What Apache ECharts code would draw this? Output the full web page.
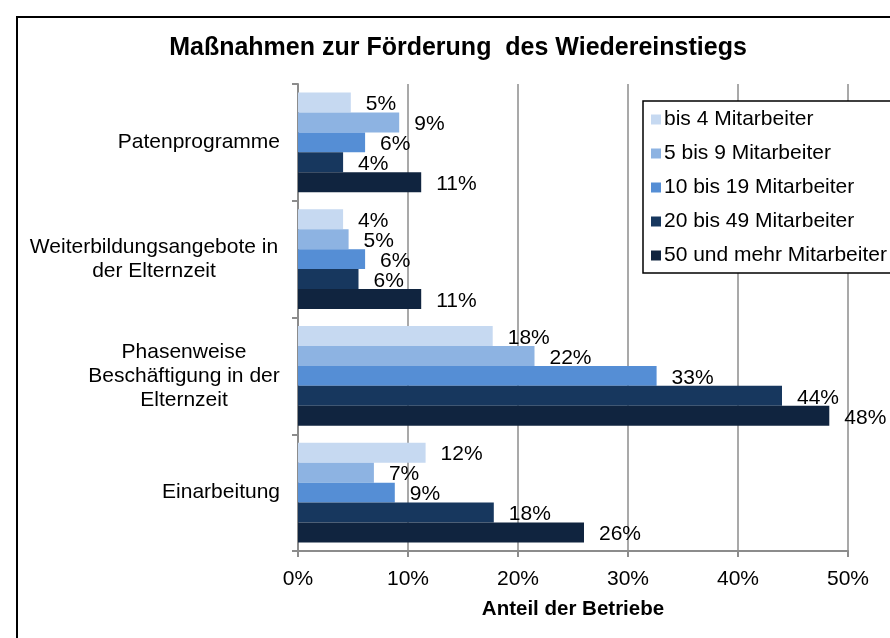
<!DOCTYPE html>
<html>
<head>
<meta charset="utf-8">
<script src="https://cdn.jsdelivr.net/npm/echarts@6/dist/echarts.min.js"></script>
<style>
  html, body { margin: 0; padding: 0; background: #fff; }
  #chart { width: 890px; height: 638px; }
</style>
</head>
<body>
<div id="chart"></div>
<script>
// Kategorien (von oben nach unten)
var categories = [
  'Patenprogramme',
  'Weiterbildungsangebote in\nder Elternzeit',
  'Phasenweise\nBeschäftigung in der\nElternzeit',
  'Einarbeitung'
];
var seriesNames = [
  'bis 4 Mitarbeiter',
  '5 bis 9 Mitarbeiter',
  '10 bis 19 Mitarbeiter',
  '20 bis 49 Mitarbeiter',
  '50 und mehr Mitarbeiter'
];
// Werte in Prozent, je Kategorie
var bis4 = [4.8, 4.1, 17.7, 11.6];
var bis9 = [9.2, 4.6, 21.5, 6.9];
var bis19 = [6.1, 6.1, 32.6, 8.8];
var bis49 = [4.1, 5.5, 44.0, 17.8];
var ab50 = [11.2, 11.2, 48.3, 26.0];
var xTicks = [0, 10, 20, 30, 40, 50];

var colors = ['#c6d9f1', '#8db3e2', '#558ed5', '#17375e', '#10243f'];
var font = 'Liberation Sans, Arial, sans-serif';

var myChart = echarts.init(document.getElementById('chart'));

// Zeilen der Achsenbeschriftung innerhalb des Blocks zentrieren
var labelWidths = [0, 252, 192, 0];
function yLabel(value, idx) {
  var w = labelWidths[idx];
  if (!w) return value;
  return value.split('\n').map(function (line) {
    return '{c' + idx + '|' + line + '}';
  }).join('\n');
}

var seriesData = [bis4, bis9, bis19, bis49, ab50];
var series = seriesData.map(function (d, i) {
  return {
    name: seriesNames[i],
    type: 'bar',
    data: d,
    barGap: 0,
    barCategoryGap: '14.5%',
    itemStyle: { color: colors[i] },
    label: {
      show: true,
      position: 'right',
      distance: 15,
      offset: [0, 2],
      color: '#000',
      fontFamily: font,
      fontSize: 21,
      formatter: function (p) { return Math.round(p.value) + '%'; }
    }
  };
});

myChart.setOption({
  backgroundColor: '#fff',
  animation: false,
  textStyle: { fontFamily: font },
  title: {
    text: 'Maßnahmen zur Förderung  des Wiedereinstiegs',
    left: 453,
    textAlign: 'center',
    top: 31,
    textStyle: { fontFamily: font, fontSize: 25, fontWeight: 'bold', color: '#000' }
  },
  legend: {
    orient: 'vertical',
    left: 643,
    top: 101,
    padding: [8, 10, 7, 8],
    itemGap: 13,
    itemWidth: 10,
    itemHeight: 10,
    icon: 'rect',
    borderColor: '#000',
    borderWidth: 1.5,
    backgroundColor: '#fff',
    textStyle: { fontFamily: font, fontSize: 21, color: '#000', padding: [0, 0, 0, -2] },
    data: seriesNames
  },
  grid: { left: 298, right: 42, top: 84, bottom: 87 },
  xAxis: {
    type: 'value',
    min: 0,
    max: 50,
    interval: 10,
    name: 'Anteil der Betriebe',
    nameLocation: 'middle',
    nameGap: 48,
    nameTextStyle: { fontFamily: font, fontSize: 20.5, fontWeight: 'bold', color: '#000' },
    axisLine: { show: true, lineStyle: { color: '#8c8c8c', width: 2 } },
    axisTick: { show: true, length: 6, lineStyle: { color: '#8c8c8c', width: 2 } },
    axisLabel: {
      color: '#000', fontFamily: font, fontSize: 21, margin: 18,
      formatter: function (v) { return xTicks.indexOf(v) >= 0 ? v + '%' : ''; }
    },
    splitLine: { show: true, lineStyle: { color: '#8c8c8c', width: 1.5 } }
  },
  yAxis: {
    type: 'category',
    inverse: true,
    data: categories,
    axisLine: { show: true, lineStyle: { color: '#8c8c8c', width: 2 } },
    axisTick: { show: true, length: 6, lineStyle: { color: '#8c8c8c', width: 2 } },
    axisLabel: {
      color: '#000', fontFamily: font, fontSize: 21, lineHeight: 24, margin: 18,
      align: 'right',
      formatter: yLabel,
      rich: {
        c1: { width: labelWidths[1], align: 'center', fontSize: 21, lineHeight: 24, fontFamily: font, color: '#000' },
        c2: { width: labelWidths[2], align: 'center', fontSize: 21, lineHeight: 24, fontFamily: font, color: '#000' }
      }
    }
  },
  graphic: [{
    type: 'rect',
    shape: { x: 17, y: 17, width: 900, height: 660 },
    style: { fill: 'none', stroke: '#000', lineWidth: 2 },
    z: 100
  }],
  series: series
});
</script>
</body>
</html>
